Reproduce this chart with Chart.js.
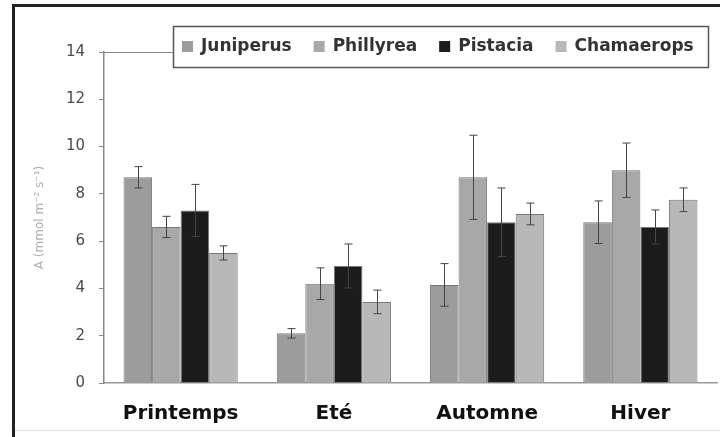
<!DOCTYPE html>
<html lang="fr">
<head>
<meta charset="UTF-8">
<title>A par saison</title>
<script src="https://cdn.jsdelivr.net/npm/chart.js"></script>
<style>
  html, body { margin: 0; padding: 0; background: #fff; }
  #graf { display: block; }
</style>
</head>
<body>
<canvas id="graf" width="720" height="437"></canvas>
<script>
// saisons
const saisons = ['Printemps', 'Eté', 'Automne', 'Hiver'];

// valeurs moyennes et erreurs
const juniperus = [8.7, 2.1, 4.15, 6.8];
const juniperusErr = [0.45, 0.2, 0.9, 0.9];
const phillyrea = [6.6, 4.2, 8.7, 9.0];
const phillyreaErr = [0.45, 0.67, 1.78, 1.15];
const pistacia = [7.3, 4.95, 6.8, 6.6];
const pistaciaErr = [1.1, 0.93, 1.45, 0.72];
const chamaerops = [5.5, 3.43, 7.15, 7.75];
const chamaeropsErr = [0.3, 0.5, 0.46, 0.5];

const ticksY = [0, 2, 4, 6, 8, 10, 12, 14];

// cadre noir + legende encadree
const cadre = {
  id: 'cadre',
  beforeDraw(chart) {
    const c = chart.ctx;
    c.save();
    c.strokeStyle = '#222';
    c.lineWidth = 3;
    c.strokeRect(13.5, 5.5, 760, 460);
    c.strokeStyle = '#ddd';
    c.lineWidth = 1;
    c.beginPath(); c.moveTo(15, 430.5); c.lineTo(720, 430.5); c.stroke();
    c.restore();
  },
  afterDraw(chart) {
    const c = chart.ctx;
    const a = chart.chartArea;
    c.save();
    // trait du haut de l'axe jusqu'a la legende
    c.strokeStyle = '#888';
    c.lineWidth = 1.2;
    c.beginPath(); c.moveTo(a.left, a.top + 0.5); c.lineTo(174, a.top + 0.5); c.stroke();
    // boite
    c.fillStyle = '#fff';
    c.fillRect(174, 27, 534, 40);
    c.strokeStyle = '#555';
    c.lineWidth = 1.5;
    c.strokeRect(173.5, 26.5, 535, 41);
    c.font = 'bold 17px "DejaVu Sans"';
    c.textBaseline = 'middle';
    let x = 182;
    chart.data.datasets.forEach(ds => {
      c.fillStyle = ds.backgroundColor;
      c.fillRect(x, 41, 11, 11);
      c.fillStyle = '#333';
      c.fillText(ds.label, x + 19, 47);
      x += 19 + c.measureText(ds.label).width + 22;
    });
    c.restore();
  }
};

// barres d'erreur
const erreurs = {
  id: 'erreurs',
  afterDatasetsDraw(chart) {
    const c = chart.ctx;
    const y = chart.scales.y;
    c.save();
    c.strokeStyle = '#444';
    c.lineWidth = 1;
    chart.data.datasets.forEach((ds, i) => {
      chart.getDatasetMeta(i).data.forEach((bar, j) => {
        const v = ds.data[j], e = ds.err[j];
        const yh = y.getPixelForValue(v + e);
        const yb = y.getPixelForValue(v - e);
        const xx = Math.round(bar.x) + 0.5;
        c.beginPath();
        c.moveTo(xx, yh); c.lineTo(xx, yb);
        c.moveTo(xx - 4, yh); c.lineTo(xx + 4, yh);
        c.moveTo(xx - 4, yb); c.lineTo(xx + 4, yb);
        c.stroke();
      });
    });
    c.restore();
  }
};

new Chart(document.getElementById('graf'), {
  type: 'bar',
  data: {
    labels: saisons,
    datasets: [
      { label: 'Juniperus', data: juniperus, err: juniperusErr, backgroundColor: '#9c9c9c' },
      { label: 'Phillyrea', data: phillyrea, err: phillyreaErr, backgroundColor: '#a8a8a8' },
      { label: 'Pistacia', data: pistacia, err: pistaciaErr, backgroundColor: '#1c1c1c' },
      { label: 'Chamaerops', data: chamaerops, err: chamaeropsErr, backgroundColor: '#b8b8b8' }
    ].map(d => Object.assign(d, { borderColor: '#777', borderWidth: 1, categoryPercentage: 0.745, barPercentage: 1 }))
  },
  options: {
    responsive: false,
    animation: false,
    layout: { padding: { top: 52, right: 3, bottom: 0, left: 0 } },
    plugins: { legend: { display: false }, tooltip: { enabled: false } },
    scales: {
      x: {
        grid: { display: false },
        border: { color: '#999', width: 1.5 },
        ticks: { color: '#111', font: { family: 'DejaVu Sans', size: 20, weight: 'bold' }, padding: 11 },
        afterFit(s) { s.height = 54; }
      },
      y: {
        min: 0, max: 14,
        afterBuildTicks(s) { s.ticks = ticksY.map(v => ({ value: v })); },
        grid: { drawOnChartArea: false, drawTicks: true, tickLength: 5, color: '#888' },
        border: { color: '#888', width: 1.5 },
        ticks: { color: '#4a4a4a', font: { family: 'DejaVu Sans', size: 15 }, padding: 14 },
        title: {
          display: true,
          text: 'A (mmol m\u207B\u00B2 s\u207B\u00B9)',
          color: '#b0b0b0',
          font: { family: 'DejaVu Sans', size: 12 },
          padding: { top: 33, bottom: 0 }
        },
        afterFit(s) { s.width = 104; }
      }
    }
  },
  plugins: [cadre, erreurs]
});
</script>
</body>
</html>
